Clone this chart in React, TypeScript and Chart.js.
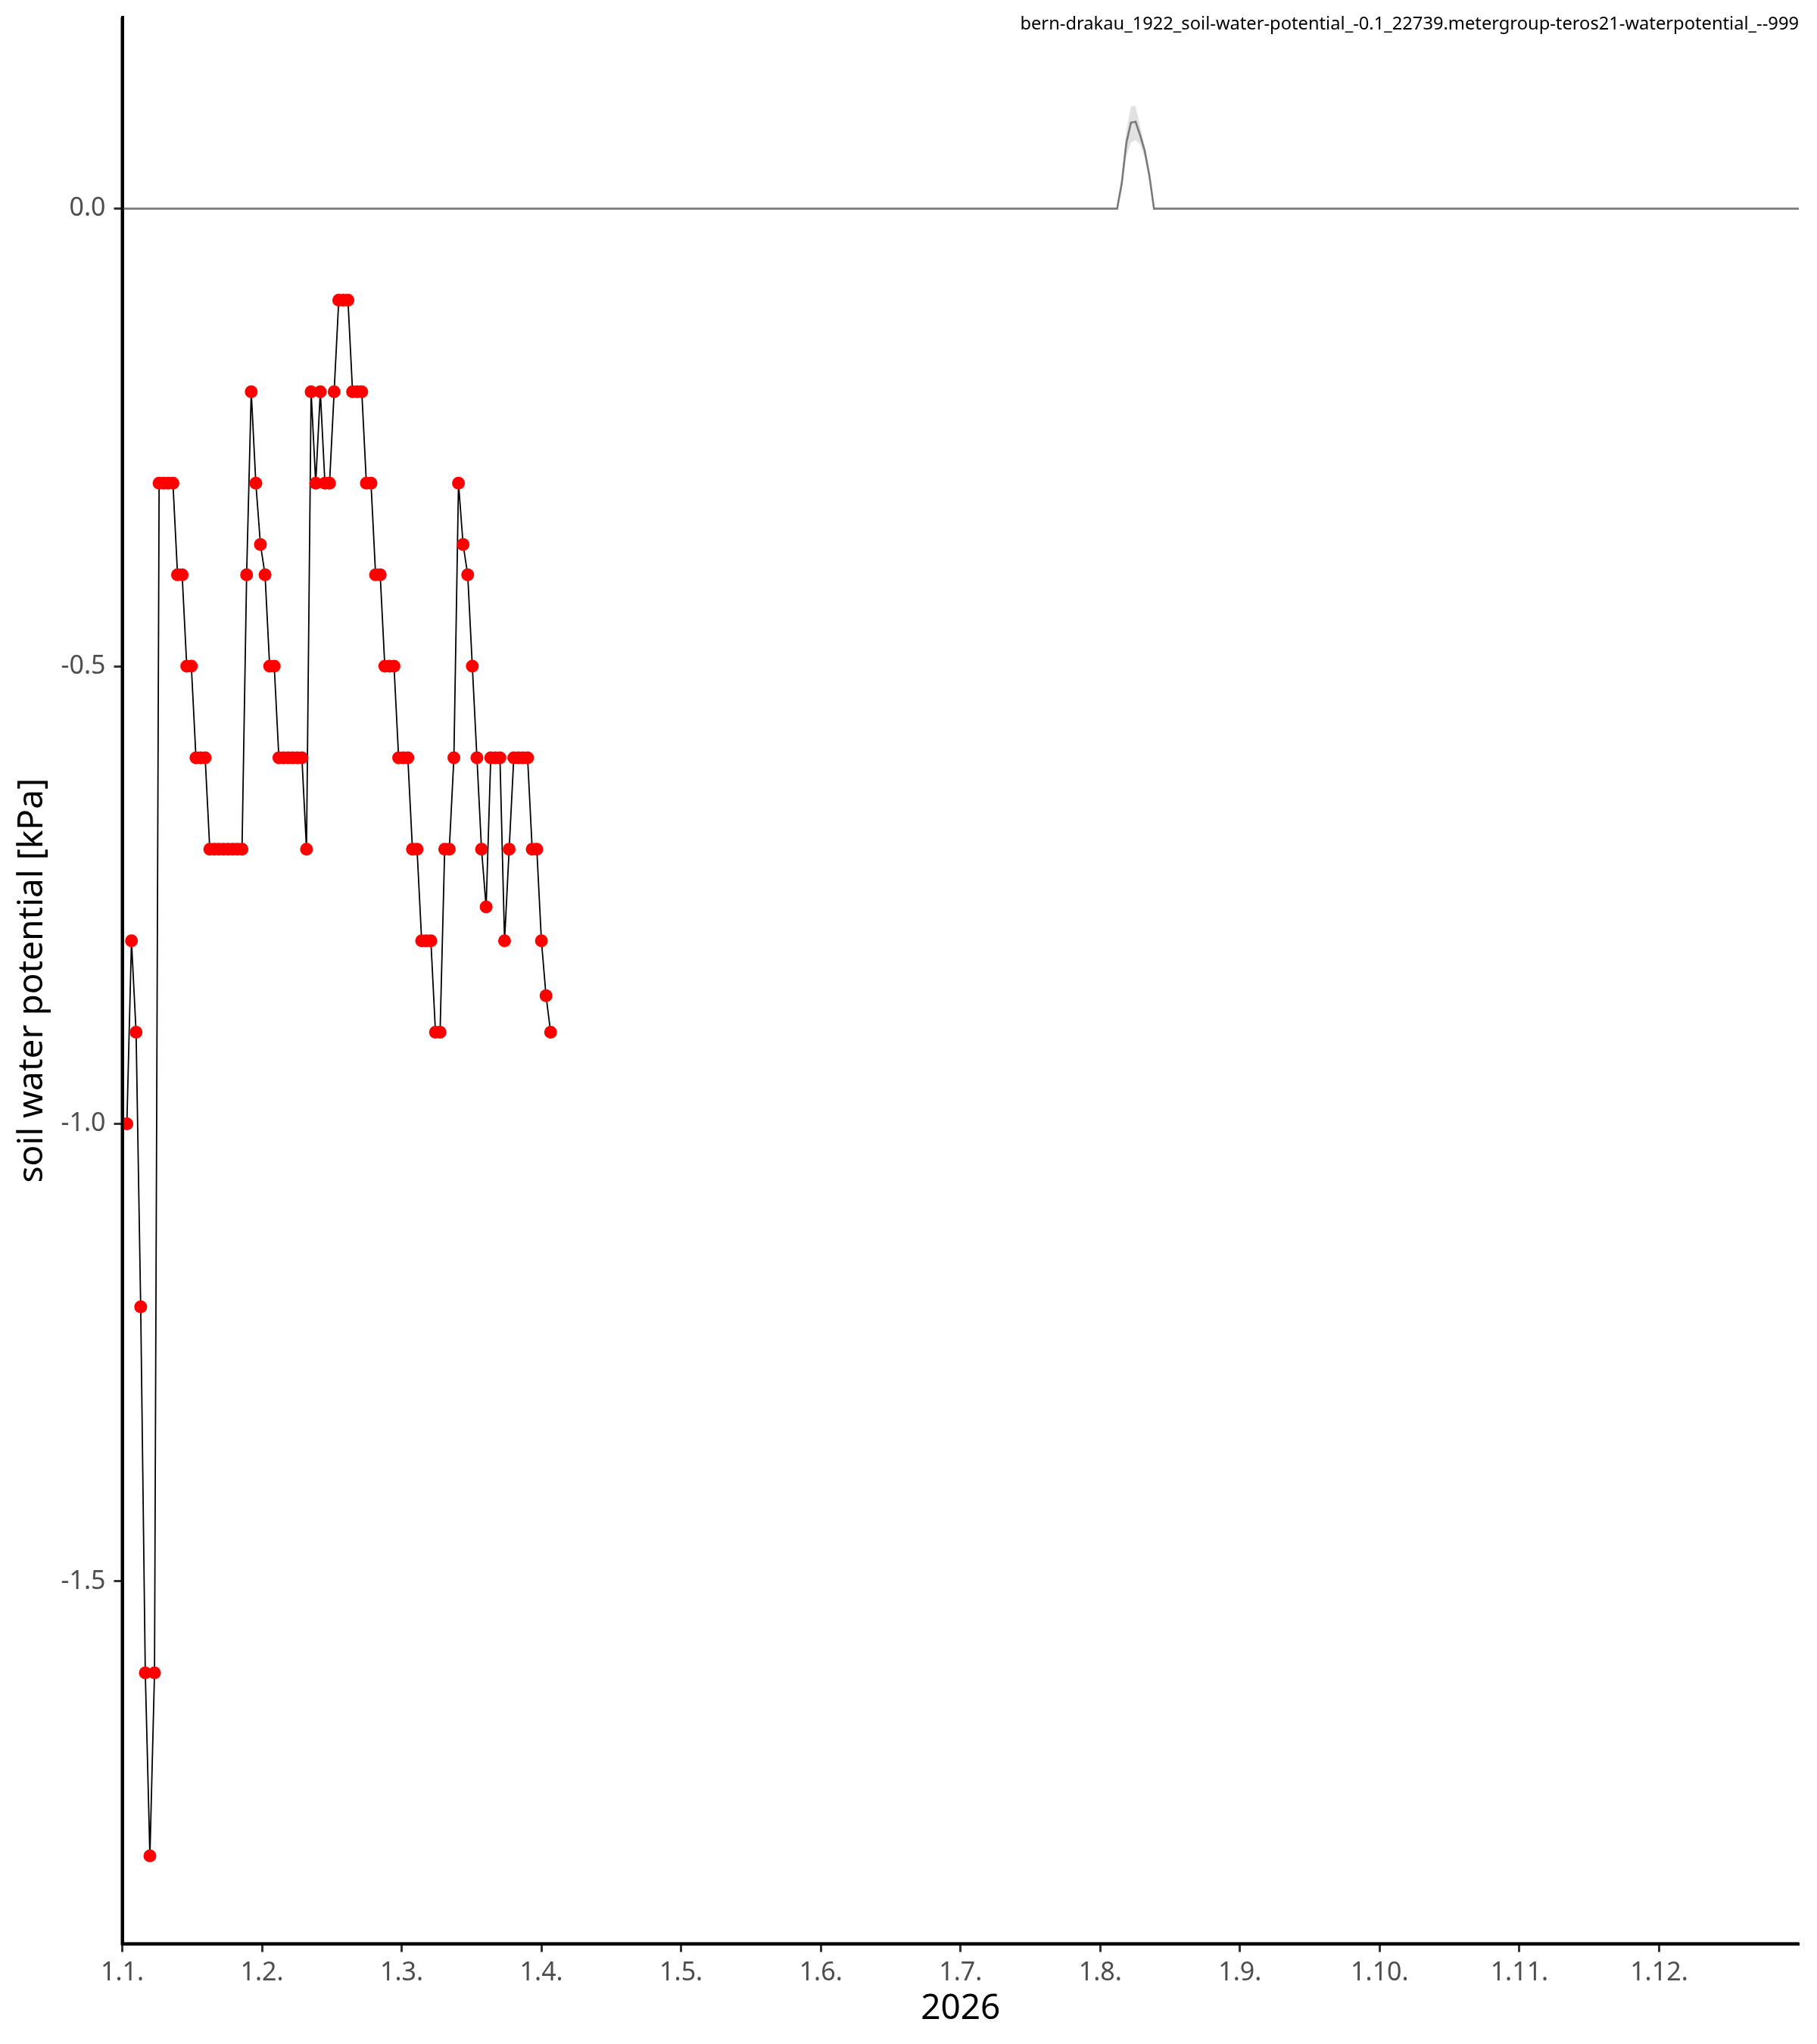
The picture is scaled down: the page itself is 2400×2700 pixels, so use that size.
import React, { useEffect, useRef } from "react";
import { Chart, registerables } from "chart.js";

Chart.register(...registerables);

// ---- data ----
const CHART_TITLE =
  "bern-drakau_1922_soil-water-potential_-0.1_22739.metergroup-teros21-waterpotential_--999";
const X_TITLE = "2026";
const Y_TITLE = "soil water potential [kPa]";

const X_TICK_LABELS = [
  "1.1.", "1.2.", "1.3.", "1.4.", "1.5.", "1.6.",
  "1.7.", "1.8.", "1.9.", "1.10.", "1.11.", "1.12.",
];
const Y_TICKS = [-1.5, -1.0, -0.5, 0.0];

// day-of-year axis (0 = 1 January)
const X_MIN = 0;
const X_MAX = 364;
const Y_MIN = -1.896;
const Y_MAX = 0.209;

// daily soil water potential, first value on 2 January (day 1)
const SOIL_FIRST_DAY = 1;
const SOIL_VALUES = [
  -1.0, -0.8, -0.9, -1.2, -1.6, -1.8, -1.6, -0.3, -0.3, -0.3,
  -0.3, -0.4, -0.4, -0.5, -0.5, -0.6, -0.6, -0.6, -0.7, -0.7,
  -0.7, -0.7, -0.7, -0.7, -0.7, -0.7, -0.4, -0.2, -0.3, -0.367,
  -0.4, -0.5, -0.5, -0.6, -0.6, -0.6, -0.6, -0.6, -0.6, -0.7,
  -0.2, -0.3, -0.2, -0.3, -0.3, -0.2, -0.1, -0.1, -0.1, -0.2,
  -0.2, -0.2, -0.3, -0.3, -0.4, -0.4, -0.5, -0.5, -0.5, -0.6,
  -0.6, -0.6, -0.7, -0.7, -0.8, -0.8, -0.8, -0.9, -0.9, -0.7,
  -0.7, -0.6, -0.3, -0.367, -0.4, -0.5, -0.6, -0.7, -0.763, -0.6,
  -0.6, -0.6, -0.8, -0.7, -0.6, -0.6, -0.6, -0.6, -0.7, -0.7,
  -0.8, -0.86, -0.9,
];

// reference (other years) line: break points of the grey curve
const REF_DAYS = [0, 216, 217, 218, 219, 220, 221, 222, 223, 224, 364];
const REF_VALUES = [0, 0, 0.028, 0.072, 0.094, 0.095, 0.08, 0.063, 0.036, 0.0, 0];

// reference band
const BAND_DAYS = [216, 217, 218, 219, 220, 221, 222, 223, 224];
const BAND_UPPER = [0, 0.032, 0.085, 0.112, 0.112, 0.09, 0.068, 0.04, 0];
const BAND_LOWER = [0, 0.02, 0.058, 0.072, 0.075, 0.07, 0.055, 0.03, 0];

const FONT = "'Noto Sans', 'Open Sans', sans-serif";

const textPlugin = {
  id: "customTexts",
  afterDatasetsDraw(chart: any) {
    const { ctx, chartArea } = chart;
    ctx.save();
    // axis lines on top of the data
    ctx.strokeStyle = "#000";
    ctx.lineWidth = 4;
    ctx.beginPath();
    ctx.moveTo(chartArea.left, chartArea.top);
    ctx.lineTo(chartArea.left, chartArea.bottom + 2);
    ctx.moveTo(chartArea.left - 2, chartArea.bottom);
    ctx.lineTo(chartArea.right, chartArea.bottom);
    ctx.stroke();
    ctx.restore();
  },
  afterDraw(chart: any) {
    const { ctx, chartArea } = chart;
    ctx.save();
    ctx.fillStyle = "#000";
    ctx.textBaseline = "alphabetic";
    ctx.font = `23.7px ${FONT}`;
    ctx.textAlign = "right";
    ctx.fillText(CHART_TITLE, chartArea.right, 39);

    ctx.font = `46px ${FONT}`;
    ctx.textAlign = "center";
    ctx.fillText(X_TITLE, (chartArea.left + chartArea.right) / 2, 2667);

    ctx.translate(56, (chartArea.top + chartArea.bottom) / 2);
    ctx.rotate(-Math.PI / 2);
    ctx.fillText(Y_TITLE, 0, 0);
    ctx.restore();
  },
};

export default function App() {
  const canvasRef = useRef<HTMLCanvasElement | null>(null);

  useEffect(() => {
    document.body.style.margin = "0";
    const canvas = canvasRef.current;
    if (!canvas) return;

    const soilData = SOIL_VALUES.map((v, i) => ({ x: SOIL_FIRST_DAY + i, y: v }));
    const refData = REF_DAYS.map((d, i) => ({ x: d, y: REF_VALUES[i] }));
    const upperData = BAND_DAYS.map((d, i) => ({ x: d, y: BAND_UPPER[i] }));
    const lowerData = BAND_DAYS.map((d, i) => ({ x: d, y: BAND_LOWER[i] }));

    const tickGrid = {
      display: true,
      drawOnChartArea: false,
      drawTicks: true,
      tickLength: 11,
      tickWidth: 3,
      tickColor: "#333333",
    };

    const chart = new Chart(canvas, {
      type: "line",
      data: {
        datasets: [
          {
            label: "soil",
            data: soilData,
            borderColor: "#000000",
            borderWidth: 1.8,
            pointBackgroundColor: "#ff0000",
            pointBorderColor: "#ff0000",
            pointBorderWidth: 0,
            pointRadius: 8.5,
            tension: 0,
            fill: false,
            order: 0,
          },
          {
            label: "reference",
            data: refData,
            borderColor: "#7a7a7a",
            borderWidth: 2.6,
            pointRadius: 0,
            tension: 0,
            fill: false,
            order: 1,
          },
          {
            label: "band upper",
            data: upperData,
            borderWidth: 0,
            borderColor: "rgba(0,0,0,0)",
            backgroundColor: "rgba(205,205,205,0.6)",
            pointRadius: 0,
            fill: "+1",
            order: 2,
          },
          {
            label: "band lower",
            data: lowerData,
            borderWidth: 0,
            borderColor: "rgba(0,0,0,0)",
            pointRadius: 0,
            fill: false,
            order: 3,
          },
        ],
      },
      options: {
        animation: false,
        responsive: false,
        devicePixelRatio: 1,
        layout: { padding: { top: 23, right: 24, left: 0, bottom: 0 } },
        plugins: {
          legend: { display: false },
          tooltip: { enabled: false },
          title: { display: false },
        },
        scales: {
          x: {
            type: "linear",
            min: X_MIN,
            max: X_MAX,
            afterBuildTicks: (scale: any) => {
              scale.ticks = X_TICK_LABELS.map((_, i) => ({
                value: X_MIN + (i * (X_MAX - X_MIN)) / X_TICK_LABELS.length,
              }));
            },
            afterFit: (scale: any) => {
              scale.height = 132.5;
              scale.paddingLeft = 0;
              scale.paddingRight = 0;
            },
            ticks: {
              autoSkip: false,
              maxRotation: 0,
              minRotation: 0,
              padding: 7,
              color: "#4d4d4d",
              font: { size: 34, family: FONT },
              callback: (_v: any, i: number) => X_TICK_LABELS[i],
            },
            grid: tickGrid,
            border: { display: true, color: "#000", width: 4 },
          },
          y: {
            type: "linear",
            min: Y_MIN,
            max: Y_MAX,
            afterBuildTicks: (scale: any) => {
              scale.ticks = Y_TICKS.map((v) => ({ value: v }));
            },
            afterFit: (scale: any) => {
              scale.width = 161.5;
              scale.paddingTop = 0;
              scale.paddingBottom = 0;
            },
            ticks: {
              padding: 11,
              color: "#4d4d4d",
              font: { size: 34, family: FONT },
              callback: (v: any) => Number(v).toFixed(1),
            },
            grid: tickGrid,
            border: { display: true, color: "#000", width: 4 },
          },
        },
      },
      plugins: [textPlugin],
    } as any);

    return () => chart.destroy();
  }, []);

  return (
    <canvas
      ref={canvasRef}
      width={2400}
      height={2700}
      style={{ display: "block", width: 2400, height: 2700 }}
    />
  );
}
